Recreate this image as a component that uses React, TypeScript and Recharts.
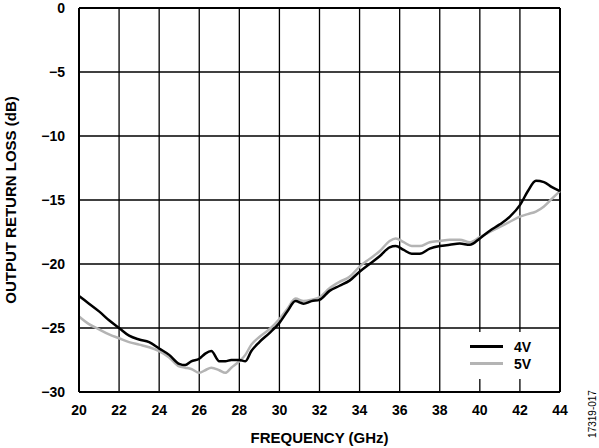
import { CartesianGrid, Line, LineChart, ReferenceLine, XAxis, YAxis } from "recharts";

const freqGHz = [
  20, 20.5, 21, 21.5, 22, 22.5, 23, 23.5, 24, 24.5, 25, 25.3, 25.6, 26, 26.3, 26.6, 27, 27.3, 27.6, 28,
  28.3, 28.6, 29, 29.5, 30, 30.4, 30.8, 31.2, 31.6, 32, 32.5, 33, 33.5, 34, 34.5, 35, 35.5, 35.8, 36.2,
  36.6, 37, 37.5, 38, 38.5, 39, 39.5, 40, 40.5, 41, 41.5, 42, 42.4, 42.8, 43.2, 43.6, 44,
];

const loss4V = [
  -22.5, -23.1, -23.7, -24.4, -25.0, -25.6, -25.9, -26.1, -26.6, -27.1, -27.8, -27.9, -27.6, -27.4, -27.0,
  -26.8, -27.6, -27.6, -27.5, -27.5, -27.6, -26.8, -26.1, -25.4, -24.6, -23.7, -22.9, -23.1, -22.9, -22.8,
  -22.1, -21.7, -21.3, -20.6, -20.0, -19.4, -18.7, -18.6, -18.9, -19.2, -19.2, -18.8, -18.6, -18.5, -18.4,
  -18.5, -18.0, -17.4, -16.9, -16.3, -15.4, -14.3, -13.5, -13.6, -14.0, -14.3,
];

const loss5V = [
  -24.1, -24.7, -25.1, -25.5, -25.8, -26.1, -26.3, -26.5, -26.8, -27.3, -28.0, -28.1, -28.2, -28.5, -28.3,
  -28.1, -28.3, -28.5, -28.1, -27.6, -27.1, -26.3, -25.7, -25.1, -24.3, -23.5, -22.7, -22.9, -22.8, -22.6,
  -21.9, -21.4, -21.0, -20.2, -19.6, -19.0, -18.2, -18.0, -18.3, -18.6, -18.6, -18.3, -18.2, -18.1, -18.1,
  -18.3, -17.9, -17.5, -17.1, -16.7, -16.3, -16.1, -15.9, -15.5, -14.9, -14.3,
];

const xTicks = [20, 22, 24, 26, 28, 30, 32, 34, 36, 38, 40, 42, 44];
const yTicks = [0, -5, -10, -15, -20, -25, -30];

const series = [
  { key: "v4", name: "4V", color: "#000000" },
  { key: "v5", name: "5V", color: "#b4b4b4" },
];

const data = freqGHz.map((f, i) => ({ f, v4: loss4V[i], v5: loss5V[i] }));

const font = "Arial, 'Liberation Sans', sans-serif";
const tickStyle = { fontFamily: font, fontSize: 14, fontWeight: 700, fill: "#000" };
const titleStyle = { fontFamily: font, fontSize: 15, fontWeight: 700, fill: "#000" };

export default function App() {
  return (
    <div style={{ position: "absolute", left: 0, top: 0, width: 599, height: 448, background: "#fff" }}>
      <LineChart width={599} height={448} data={data} margin={{ top: 8, right: 39, bottom: 0, left: 0 }}>
        <CartesianGrid stroke="#000" strokeWidth={1.3} />
        <XAxis
          dataKey="f"
          type="number"
          domain={[20, 44]}
          ticks={xTicks}
          interval={0}
          height={56}
          tickLine={false}
          tickMargin={7}
          axisLine={{ stroke: "#000", strokeWidth: 2 }}
          tick={tickStyle}
          label={{ value: "FREQUENCY (GHz)", position: "insideBottom", offset: 5, style: titleStyle }}
        />
        <YAxis
          type="number"
          domain={[-30, 0]}
          ticks={yTicks}
          interval={0}
          width={79}
          tickLine={false}
          tickMargin={8}
          axisLine={{ stroke: "#000", strokeWidth: 2 }}
          tick={tickStyle}
          tickFormatter={(v: number) => (v < 0 ? "\u2212" + Math.abs(v) : String(v))}
          label={{ value: "OUTPUT RETURN LOSS (dB)", angle: -90, position: "insideLeft", offset: 11, style: { ...titleStyle, textAnchor: "middle" } }}
        />
        <ReferenceLine y={0} stroke="#000" strokeWidth={2} />
        <ReferenceLine x={44} stroke="#000" strokeWidth={2} />
        <Line type="monotone" dataKey="v5" name="5V" stroke="#b4b4b4" strokeWidth={2.5} dot={false} isAnimationActive={false} />
        <Line type="monotone" dataKey="v4" name="4V" stroke="#000" strokeWidth={2.5} dot={false} isAnimationActive={false} />
      </LineChart>
      <div
        style={{
          position: "absolute",
          left: 468,
          top: 332,
          width: 70,
          height: 47,
          background: "#fff",
          fontFamily: font,
          fontWeight: 700,
          fontSize: 14,
          paddingTop: 6,
          boxSizing: "border-box",
        }}
      >
        {series.map((s) => (
          <div key={s.key} style={{ display: "flex", alignItems: "center", height: 17 }}>
            <div style={{ width: 33, height: 3, background: s.color, marginLeft: 2, marginRight: 11 }} />
            <span>{s.name}</span>
          </div>
        ))}
      </div>
      <div
        style={{
          position: "absolute",
          left: 592,
          top: 414,
          transform: "translate(-50%, -50%) rotate(-90deg)",
          fontFamily: font,
          fontSize: 10,
          whiteSpace: "nowrap",
        }}
      >
        17319-017
      </div>
    </div>
  );
}
